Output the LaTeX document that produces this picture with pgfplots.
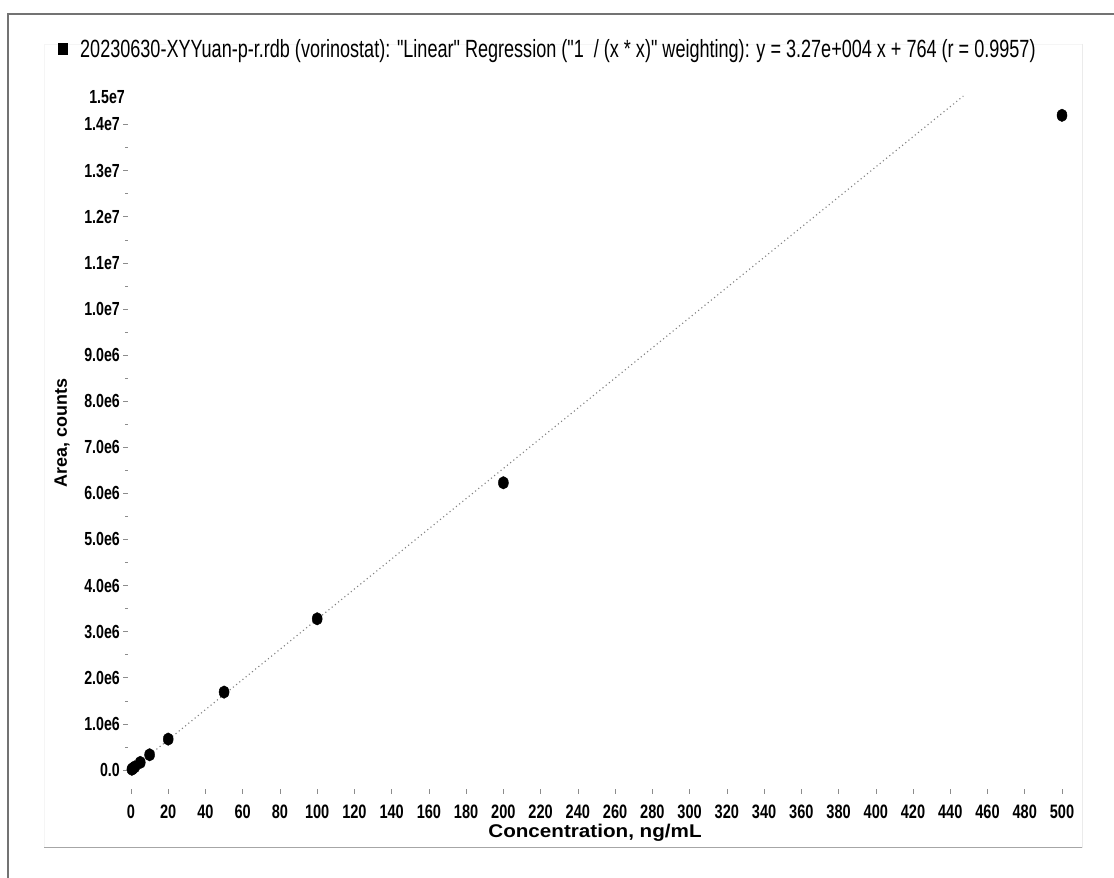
\documentclass[border=0pt]{standalone}
\usepackage{pgfplots}
\pgfplotsset{compat=1.18}
\usepackage{fontspec}
\setmainfont{Liberation Sans}
\newfontfamily\narrowfont[FakeStretch=0.75]{Liberation Sans}
\newfontfamily\titlefont[FakeStretch=0.725]{Liberation Sans}
\newfontfamily\widefont[FakeStretch=1.12]{Liberation Sans}
\begin{document}
\begin{tikzpicture}
\begin{scope}[x=1bp,y=1bp]
\useasboundingbox (0,0) rectangle (1114,878);
\fill[white] (0,0) rectangle (1114,878);
% outer frame
\draw[black!55, line width=1.5bp] (8,0) -- (8,864) -- (1114,864);
% panel
\draw[black!4, line width=0.8bp] (44,30) -- (44,834) -- (1082,834);
\draw[black!8, line width=0.8bp] (1082,834) -- (1082,30);
\draw[black!35, line width=1bp] (44,30) -- (1082,30);
% title
\fill[black] (58,823) rectangle (68,835);
\node[anchor=base west, inner sep=0pt, font=\titlefont\fontsize{25}{25}\selectfont] at (80,820)
  {20230630-XYYuan-p-r.rdb (vorinostat): "Linear" Regression ("1\ \ / (x * x)" weighting): y = 3.27e+004 x + 764 (r = 0.9957)};
\node[font=\widefont\bfseries\fontsize{18.5}{18.5}\selectfont, inner sep=0pt] at (595,45) {Concentration, ng/mL};
\node[font=\bfseries\fontsize{18}{18}\selectfont, inner sep=0pt, rotate=90] at (62,445) {Area, counts};
\end{scope}
\begin{axis}[
  anchor=south west, at={(128bp,89bp)},
  scale only axis, width=943.3bp, height=692.1bp,
  xmin=-1.6, xmax=505, ymin=-412000, ymax=14600000,
  clip=false,
  axis line style={draw=none},
  tick align=outside,
  xtick pos=lower, ytick pos=left,
  major tick length=5bp, minor tick length=3bp,
  tick style={black!45, line width=0.6bp},
  xtick={0,20,40,60,80,100,120,140,160,180,200,220,240,260,280,300,320,340,360,380,400,420,440,460,480,500},
  ytick={0,1000000,2000000,3000000,4000000,5000000,6000000,7000000,8000000,9000000,10000000,11000000,12000000,13000000,14000000},
  yticklabels={0.0,1.0e6,2.0e6,3.0e6,4.0e6,5.0e6,6.0e6,7.0e6,8.0e6,9.0e6,1.0e7,1.1e7,1.2e7,1.3e7,1.4e7},
  extra y ticks={14600000}, extra y tick labels={1.5e7},
  extra y tick style={major tick length=0pt, ytick pos=left},
  minor y tick num=1,
  scaled y ticks=false,
  /pgf/number format/assume math mode=true,
  xticklabel style={font=\narrowfont\bfseries\fontsize{19.5}{19.5}\selectfont, anchor=north, inner sep=0pt, yshift=-11bp},
  yticklabel style={font=\narrowfont\bfseries\fontsize{19}{19}\selectfont, anchor=east, inner sep=0pt, xshift=-3bp},
]
\addplot[black!50, line width=1.1bp, dash pattern=on 1.1bp off 3bp] coordinates {(0,764) (447,14618000)};
\addplot[only marks, mark=*, mark size=6.3, mark options={black, fill=black, xscale=0.8}]
  coordinates {(0.5,16000) (1,33000) (2,66000) (5,164000) (10,330000) (20,670000) (50,1690000) (100,3280000) (200,6230000) (500,14200000)};
\end{axis}
\end{tikzpicture}
\end{document}
